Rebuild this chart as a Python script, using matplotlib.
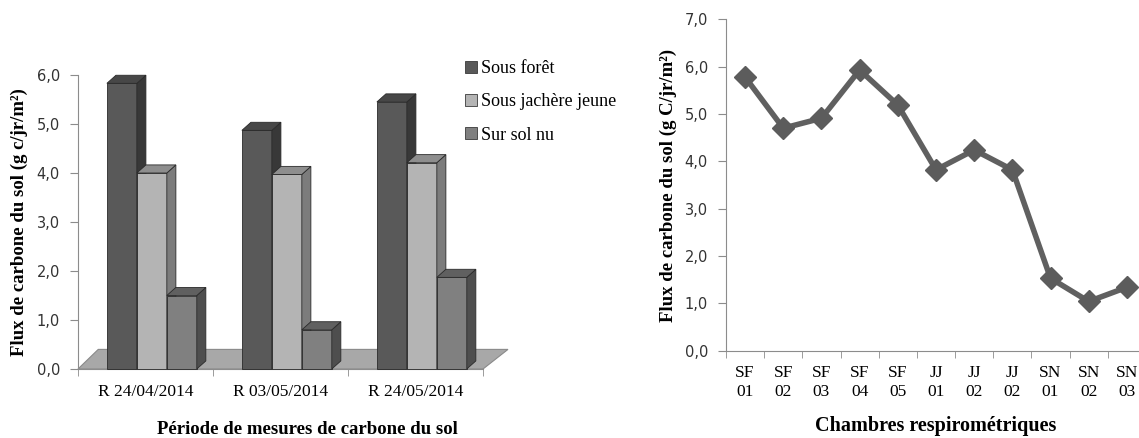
import matplotlib.pyplot as plt
import matplotlib.ticker as mticker
from matplotlib.patches import Polygon
from matplotlib.lines import Line2D

plt.rcParams['font.family'] = ['Liberation Serif', 'DejaVu Serif']
plt.rcParams['font.size'] = 12.5

# Left panel data: soil carbon flux per measurement campaign
periods = ['R 24/04/2014', 'R 03/05/2014', 'R 24/05/2014']
series_names = ['Sous forêt', 'Sous jachère jeune', 'Sur sol nu']
foret = [5.83, 4.87, 5.45]
jachere = [4.00, 3.97, 4.21]
sol_nu = [1.50, 0.80, 1.87]

# Right panel data: flux per respirometric chamber
chambres = ['SF\n01', 'SF\n02', 'SF\n03', 'SF\n04', 'SF\n05',
            'JJ\n01', 'JJ\n02', 'JJ\n02', 'SN\n01', 'SN\n02', 'SN\n03']
flux = [5.78, 4.70, 4.91, 5.93, 5.19, 3.82, 4.24, 3.82, 1.53, 1.04, 1.34]

W, H = 1139, 438
fig = plt.figure(figsize=(W / 100, H / 100), dpi=100)

comma = mticker.FuncFormatter(lambda v, p: f'{v:.1f}'.replace('.', ','))
axis_grey = '#8c8c8c'
label_size = 13.5


def style_yticks(a):
    a.tick_params(axis='y', length=6, pad=7, color=axis_grey,
                  labelcolor='#333333')
    for t in a.get_yticklabels():
        t.set_fontfamily('DejaVu Sans')
        t.set_fontsize(10.5)


# ---------- left: pseudo-3D clustered columns ----------
ax = fig.add_axes([78 / W, 1 - 369 / H, 405 / W, 294 / H])
ax.set_xlim(-0.5, 2.5)
ax.set_ylim(0, 6)

front = ['#595959', '#b4b4b4', '#808080']
side = ['#383838', '#7c7c7c', '#4e4e4e']
top = ['#474747', '#8e8e8e', '#606060']
dx, dy = 0.067, 0.165
bw = 0.222
offsets = [-0.175, 0.047, 0.269]

# floor slab under the columns
floor = Polygon([(-0.5, 0), (-0.35, 0.4), (2.685, 0.4), (2.5, 0)],
                closed=True, facecolor='#a8a8a8', edgecolor='#8a8a8a',
                lw=0.8, zorder=1, clip_on=False)
ax.add_patch(floor)

for i, vals in enumerate([foret, jachere, sol_nu]):
    xs = [k + offsets[i] for k in range(len(periods))]
    bars = ax.bar(xs, vals, width=bw, color=front[i], edgecolor='#2a2a2a',
                  linewidth=0.6, zorder=3 + i, clip_on=False)
    for b in bars:
        x0, w, h = b.get_x(), b.get_width(), b.get_height()
        ax.add_patch(Polygon([(x0 + w, 0), (x0 + w + dx, dy),
                              (x0 + w + dx, h + dy), (x0 + w, h)],
                             facecolor=side[i], edgecolor='#2a2a2a', lw=0.6,
                             zorder=3 + i, clip_on=False))
        ax.add_patch(Polygon([(x0, h), (x0 + dx, h + dy),
                              (x0 + w + dx, h + dy), (x0 + w, h)],
                             facecolor=top[i], edgecolor='#2a2a2a', lw=0.6,
                             zorder=3 + i, clip_on=False))

ax.set_xticks(range(len(periods)))
ax.set_xticklabels(periods)
ax.set_xticks([-0.5, 0.5, 1.5, 2.5], minor=True)
ax.tick_params(axis='x', which='major', length=0, pad=11)
ax.tick_params(axis='x', which='minor', length=5, color=axis_grey)
ax.set_yticks([0, 1, 2, 3, 4, 5, 6])
ax.yaxis.set_major_formatter(comma)
style_yticks(ax)
for s in ['top', 'right']:
    ax.spines[s].set_visible(False)
for s in ['left', 'bottom']:
    ax.spines[s].set_color(axis_grey)
ax.set_ylabel('Flux de carbone du sol (g c/jr/m²)', fontweight='bold',
              fontsize=label_size)
ax.yaxis.set_label_coords((28 - 78) / 405, 0.5)
ax.set_xlabel('Période de mesures de carbone du sol', fontweight='bold',
              fontsize=label_size)
ax.xaxis.set_label_coords((307 - 78) / 405, -(421 - 369) / 294)

handles = [Line2D([], [], ls='none', marker='s', markersize=8,
                  markerfacecolor=front[i], markeredgecolor='#3a3a3a',
                  markeredgewidth=0.6) for i in range(3)]
fig.legend(handles, series_names, loc='upper left',
           bbox_to_anchor=(458 / W, 1 - 53 / H), frameon=False,
           handlelength=0.6, handletextpad=0.3, labelspacing=0.9,
           borderaxespad=0, fontsize=13)

# ---------- right: line chart per chamber ----------
ax2 = fig.add_axes([726 / W, 1 - 350.7 / H, 420 / W, 331.4 / H])
xs = range(len(chambres))
ax2.plot(xs, flux, color='#606060', lw=4, marker='D', markersize=11,
         markerfacecolor='#5c5c5c', markeredgecolor='#5c5c5c',
         clip_on=False, zorder=3)
ax2.set_xlim(-0.5, len(chambres) - 0.5)
ax2.set_ylim(0, 7)
ax2.set_yticks(range(0, 8))
ax2.yaxis.set_major_formatter(comma)
style_yticks(ax2)
ax2.set_xticks(list(xs))
ax2.set_xticklabels(chambres, linespacing=1.25)
ax2.set_xticks([k - 0.5 for k in range(len(chambres) + 1)], minor=True)
ax2.tick_params(axis='x', which='major', length=0, pad=10)
ax2.tick_params(axis='x', which='minor', length=5, color=axis_grey)
for s in ['top', 'right']:
    ax2.spines[s].set_visible(False)
for s in ['left', 'bottom']:
    ax2.spines[s].set_color(axis_grey)
ax2.set_ylabel('Flux de carbone du sol (g C/jr/m²)', fontweight='bold',
               fontsize=label_size)
ax2.yaxis.set_label_coords((677 - 726) / 420, 0.5)
ax2.set_xlabel('Chambres respirométriques', fontweight='bold',
               fontsize=label_size + 1)
ax2.xaxis.set_label_coords(0.5, -(416 - 350.7) / 331.4)

fig.savefig('out.png', dpi=100, facecolor='white')
